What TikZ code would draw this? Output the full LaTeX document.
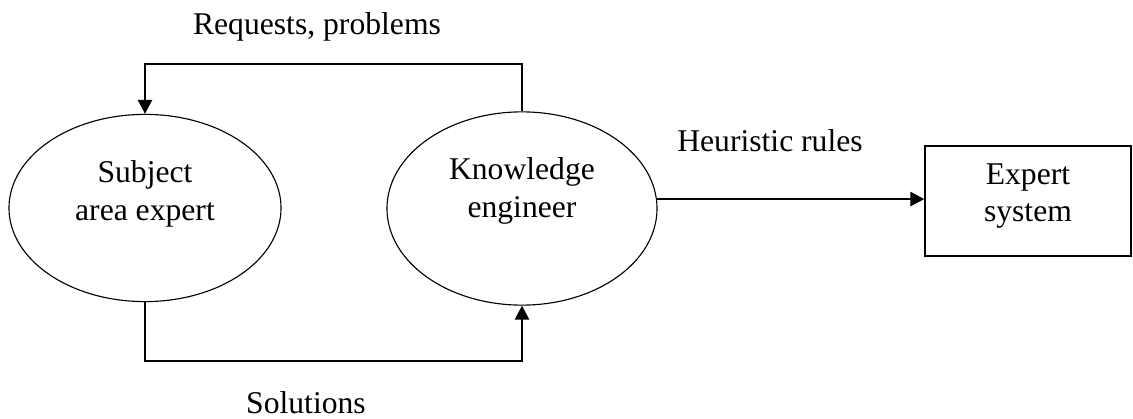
\documentclass[tikz,border=0pt]{standalone}
\usepackage{fontspec}
\setmainfont{Liberation Serif}
\usetikzlibrary{shapes.geometric,arrows.meta,positioning}

\begin{document}
\begin{tikzpicture}[x=0.025cm, y=-0.025cm,
    font=\fontsize{22.5}{26.5}\selectfont,
    party/.style={ellipse, draw, line width=0.8pt, align=center, inner sep=0pt},
    flow/.style={line width=1pt},
    arrowflow/.style={flow, -{Triangle[length=0.35cm, width=0.36cm]}}]
    % Frame
    \useasboundingbox (0,0) rectangle (1133,419);

    % Participants
    \node[party, minimum width=6.8cm, minimum height=4.68cm, text depth=0.87cm] (expert) at (145,208) {Subject\\area expert};
    \node[party, minimum width=6.75cm, minimum height=4.83cm, text depth=1.05cm] (engineer) at (522,208.5) {Knowledge\\engineer};
    \node[draw, line width=1pt, align=center, minimum width=5.15cm, minimum height=2.75cm, text depth=0.43cm] (system) at (1028,201) {Expert\\system};

    % Labels
    \node[anchor=base] (requests) at (317,35) {Requests, problems};
    \node[anchor=base] (heuristic) at (770,152) {Heuristic rules};
    \node[anchor=base] (solutions) at (306,414) {Solutions};

    % Connectors
    \coordinate (toprow) at (0,64);
    \coordinate (bottomrow) at (0,361);
    \draw[arrowflow] (engineer.north) -- (engineer.north |- toprow) -| (expert.north);
    \draw[arrowflow] (expert.south) -- (expert.south |- bottomrow) -| (engineer.south);
    \draw[arrowflow] (engineer.4) -- (engineer.4 -| system.west);
\end{tikzpicture}
\end{document}
